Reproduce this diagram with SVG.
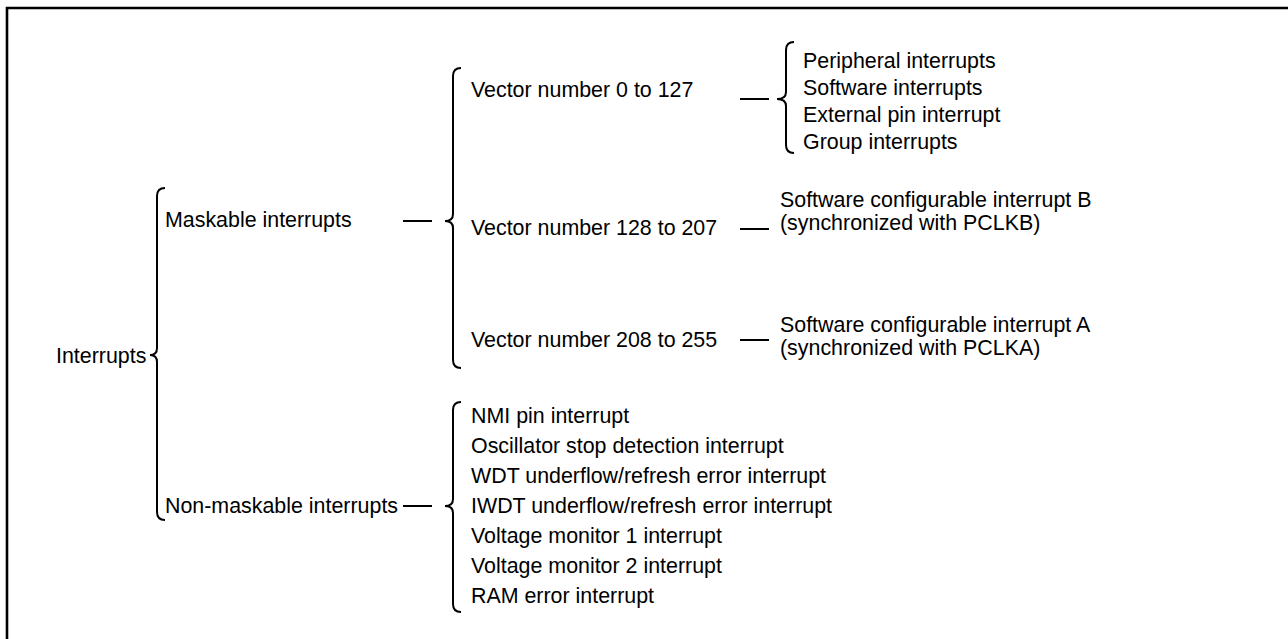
<svg xmlns="http://www.w3.org/2000/svg" width="1288" height="639" viewBox="0 0 1288 639">
<style>
text{font-family:"Liberation Sans",Arial,sans-serif;font-size:21.4px;fill:#000}
.br{fill:none;stroke:#000;stroke-width:2}
.ln{stroke:#000;stroke-width:2}
</style>
<rect x="0" y="0" width="1288" height="639" fill="#fff"/>
<path d="M7,639 L7,8 L1288,8" fill="none" stroke="#000" stroke-width="2.6"/>
<g id="connectors">
<path class="br" d="M165,188 Q157,188 157,196 L157,348 Q157,355 150,355 Q157,355 157,362 L157,512 Q157,520 165,520"/>
<path class="br" d="M461,68 Q453,68 453,76 L453,214 Q453,221 445,221 Q453,221 453,228 L453,360 Q453,368 461,368"/>
<path class="br" d="M461,402 Q453,402 453,410 L453,499 Q453,506 445,506 Q453,506 453,513 L453,604 Q453,612 461,612"/>
<path class="br" d="M794,42 Q786,42 786,50 L786,92 Q786,99 777,99 Q786,99 786,106 L786,145 Q786,153 794,153"/>
<line class="ln" x1="403" y1="221" x2="432" y2="221"/>
<line class="ln" x1="403" y1="506" x2="432" y2="506"/>
<line class="ln" x1="740" y1="99" x2="769" y2="99"/>
<line class="ln" x1="740" y1="229" x2="769" y2="229"/>
<line class="ln" x1="740" y1="340" x2="769" y2="340"/>
</g>
<g id="interrupts"><text x="56" y="363">Interrupts</text></g>
<g id="maskable"><text x="165" y="227">Maskable interrupts</text></g>
<g id="nonmaskable"><text x="165" y="513">Non-maskable interrupts</text></g>
<g id="vec0"><text x="471" y="97">Vector number 0 to 127</text></g>
<g id="vec128"><text x="471" y="235">Vector number 128 to 207</text></g>
<g id="vec208"><text x="471" y="347">Vector number 208 to 255</text></g>
<g id="vec0list">
<text x="803" y="68">Peripheral interrupts</text>
<text x="803" y="95">Software interrupts</text>
<text x="803" y="122">External pin interrupt</text>
<text x="803" y="149">Group interrupts</text>
</g>
<g id="swintB">
<text x="780" y="207">Software configurable interrupt B</text>
<text x="780" y="230">(synchronized with PCLKB)</text>
</g>
<g id="swintA">
<text x="780" y="332">Software configurable interrupt A</text>
<text x="780" y="355">(synchronized with PCLKA)</text>
</g>
<g id="nmilist">
<text x="471" y="423">NMI pin interrupt</text>
<text x="471" y="453">Oscillator stop detection interrupt</text>
<text x="471" y="483">WDT underflow/refresh error interrupt</text>
<text x="471" y="513">IWDT underflow/refresh error interrupt</text>
<text x="471" y="543">Voltage monitor 1 interrupt</text>
<text x="471" y="573">Voltage monitor 2 interrupt</text>
<text x="471" y="603">RAM error interrupt</text>
</g>
</svg>
